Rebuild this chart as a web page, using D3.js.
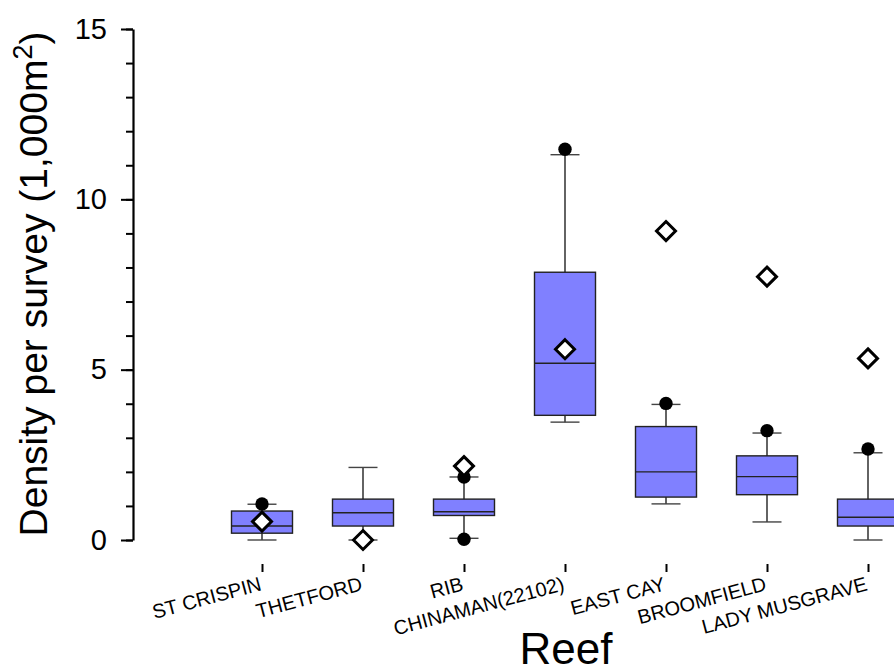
<!DOCTYPE html>
<html>
<head>
<meta charset="utf-8">
<script src="https://cdn.jsdelivr.net/npm/d3@7"></script>
<style>
  body { margin: 0; background: #fff; }
  svg { display: block; font-family: Arial, "Liberation Sans", sans-serif; }
</style>
</head>
<body>
<div id="chart"></div>
<script>
// reef names along the x axis
var reefs = ["ST CRISPIN", "THETFORD", "RIB", "CHINAMAN(22102)", "EAST CAY", "BROOMFIELD", "LADY MUSGRAVE"];

// box plot stats per reef (density per survey, 1,000 m2)
var whiskerLow  = [0.00, 0.00, 0.05, 3.46, 1.06, 0.53, 0.00];
var q1          = [0.20, 0.41, 0.72, 3.66, 1.26, 1.33, 0.41];
var median      = [0.41, 0.80, 0.83, 5.19, 2.00, 1.86, 0.67];
var q3          = [0.85, 1.20, 1.20, 7.86, 3.33, 2.47, 1.20];
var whiskerHigh = [1.05, 2.13, 1.85, 11.31, 3.98, 3.14, 2.56];
var means       = [0.54, 0.00, 2.17, 5.60, 9.07, 7.73, 5.33];
// extreme points drawn as black dots
var outliers = [[1.06], [], [1.85, 0.02], [11.47], [4.01], [3.21], [2.67]];

var yMajor = [0, 5, 10, 15];
var yMinor = d3.range(0, 16, 1);

var width = 894;
var height = 669;

var svg = d3.select("#chart")
  .append("svg")
  .attr("width", width)
  .attr("height", height);

var scaleY = d3.scaleLinear().domain([0, 15]).range([540, 29]);
var scaleX = d3.scalePoint().domain(reefs).range([262, 868]);

var boxW = 61;
var capW = 29;

var data = reefs.map(function (r, i) {
  return {
    reef: r, lo: whiskerLow[i], q1: q1[i], med: median[i], q3: q3[i],
    hi: whiskerHigh[i], mean: means[i], out: outliers[i]
  };
});

// y axis: minor ticks then major ticks with labels
svg.append("g")
  .attr("transform", "translate(133,0)")
  .call(d3.axisLeft(scaleY).tickValues(yMinor).tickSize(7).tickFormat(""))
  .call(function (g) {
    g.select(".domain").remove();
    g.selectAll("line").attr("stroke", "#000").attr("stroke-width", 2);
  });

svg.append("g")
  .attr("transform", "translate(133,0)")
  .call(d3.axisLeft(scaleY).tickValues(yMajor).tickSize(12).tickSizeOuter(0).tickPadding(14))
  .call(function (g) {
    g.select(".domain").attr("stroke", "#000").attr("stroke-width", 2.2);
    g.selectAll("line").attr("stroke", "#000").attr("stroke-width", 2);
    g.selectAll("text")
      .attr("font-size", 29)
      .attr("font-family", "Arial, 'Liberation Sans', sans-serif")
      .attr("fill", "#000");
  });

// x axis: only tick marks and rotated labels
svg.append("g")
  .attr("transform", "translate(0,564)")
  .call(d3.axisBottom(scaleX).tickSize(8).tickSizeOuter(0))
  .call(function (g) {
    g.select(".domain").remove();
    g.selectAll("line").attr("stroke", "#000").attr("stroke-width", 2);
    g.selectAll("text")
      .attr("x", 0)
      .attr("y", 0)
      .attr("dy", 0)
      .attr("text-anchor", "end")
      .attr("transform", "translate(0,26) rotate(-15)")
      .attr("font-size", 20)
      .attr("font-family", "Arial, 'Liberation Sans', sans-serif")
      .attr("fill", "#000");
  });

var boxes = svg.selectAll(".box")
  .data(data)
  .enter()
  .append("g")
  .attr("class", "box")
  .attr("transform", function (d) { return "translate(" + scaleX(d.reef) + ",0)"; });

// whiskers
boxes.append("line")
  .attr("x1", 0).attr("x2", 0)
  .attr("y1", function (d) { return scaleY(d.hi); })
  .attr("y2", function (d) { return scaleY(d.lo); })
  .attr("stroke", "#222").attr("stroke-width", 1.4);

boxes.append("line")
  .attr("x1", -capW / 2).attr("x2", capW / 2)
  .attr("y1", function (d) { return scaleY(d.hi); })
  .attr("y2", function (d) { return scaleY(d.hi); })
  .attr("stroke", "#444").attr("stroke-width", 1.4);

boxes.append("line")
  .attr("x1", -capW / 2).attr("x2", capW / 2)
  .attr("y1", function (d) { return scaleY(d.lo); })
  .attr("y2", function (d) { return scaleY(d.lo); })
  .attr("stroke", "#444").attr("stroke-width", 1.4);

boxes.append("rect")
  .attr("x", -boxW / 2)
  .attr("width", boxW)
  .attr("y", function (d) { return scaleY(d.q3); })
  .attr("height", function (d) { return scaleY(d.q1) - scaleY(d.q3); })
  .attr("fill", "#8080ff")
  .attr("stroke", "#222")
  .attr("stroke-width", 1.4);

boxes.append("line")
  .attr("x1", -boxW / 2).attr("x2", boxW / 2)
  .attr("y1", function (d) { return scaleY(d.med); })
  .attr("y2", function (d) { return scaleY(d.med); })
  .attr("stroke", "#222").attr("stroke-width", 1.4);

boxes.selectAll(".dot")
  .data(function (d) { return d.out; })
  .enter()
  .append("circle")
  .attr("class", "dot")
  .attr("cx", 0)
  .attr("cy", function (v) { return scaleY(v); })
  .attr("r", 6.7)
  .attr("fill", "#000");

// mean as open diamond
boxes.append("path")
  .attr("d", function (d) {
    var y = scaleY(d.mean), s = 9.5;
    return "M0," + (y - s) + "L" + s + "," + y + "L0," + (y + s) + "L" + (-s) + "," + y + "Z";
  })
  .attr("fill", "#fff")
  .attr("stroke", "#000")
  .attr("stroke-width", 3)
  .attr("stroke-linejoin", "miter");

// axis titles
var ylab = svg.append("text")
  .attr("transform", "translate(47,284) rotate(-90)")
  .attr("text-anchor", "middle")
  .attr("font-size", 39)
  .attr("fill", "#000");
ylab.append("tspan").text("Density per survey (1,000m");
ylab.append("tspan").attr("font-size", 27).attr("dy", -15).text("2");
ylab.append("tspan").attr("dy", 15).text(")");

svg.append("text")
  .attr("x", 566)
  .attr("y", 664)
  .attr("text-anchor", "middle")
  .attr("font-size", 44)
  .attr("fill", "#000")
  .text("Reef");
</script>
</body>
</html>
